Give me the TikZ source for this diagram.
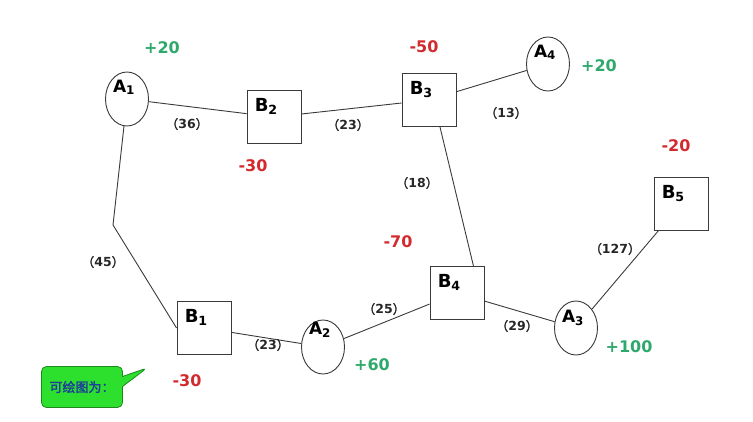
\documentclass[tikz,border=0pt]{standalone}
\usepackage{fontspec}
\setmainfont{DejaVu Sans}
\newfontfamily\cjk[AutoFakeBold=2]{Noto Sans CJK SC}
\usepackage{tikz}
\usetikzlibrary{shapes.geometric, shapes.callouts, calc}
\definecolor{gaingreen}{HTML}{2FA86B}
\definecolor{lossred}{HTML}{D22A2E}
\definecolor{linegray}{HTML}{3A3A3A}
\definecolor{notegreen}{HTML}{2EE02E}
\definecolor{noteedge}{HTML}{1A8A1A}
\definecolor{noteblue}{HTML}{1E3C9C}
\newcommand{\nm}[2]{#1\textsubscript{#2}}
\newcommand{\wt}[1]{{\cjk\bfseries （}\textbf{#1}{\cjk\bfseries ）}}

\begin{document}
\begin{tikzpicture}[
  x=1pt, y=-1pt,
  every node/.style={font=\bfseries},
  sink/.style={draw=linegray, line width=0.9pt, rectangle,
               minimum width=54pt, minimum height=53pt, inner sep=0pt},
  src/.style={draw=linegray, line width=0.9pt, ellipse,
              minimum width=43pt, minimum height=54pt, inner sep=0pt},
  boxtag/.style={anchor=north west, inner sep=8pt,
                 font=\fontsize{18}{20}\selectfont\bfseries},
  ovaltag/.style={anchor=north, inner sep=0pt, xshift=-3pt, yshift=-8pt,
                  font=\fontsize{17}{19}\selectfont\bfseries},
  gain/.style={text=gaingreen, font=\fontsize{16}{18}\selectfont\bfseries},
  loss/.style={text=lossred, font=\fontsize{16}{18}\selectfont\bfseries},
  wt/.style={text=black!85, font=\fontsize{12.5}{14}\selectfont},
  link/.style={draw=linegray, line width=0.9pt},
  note/.style={rectangle callout, rounded corners=5pt, draw=noteedge,
               line width=0.8pt, fill=notegreen, minimum width=81pt,
               minimum height=41pt, callout pointer width=10pt,
               text=noteblue, font=\cjk\bfseries\fontsize{13}{15}\selectfont}
]
\useasboundingbox (0,0) rectangle (753,421);

% Supply points
\node[src, label={[ovaltag]90:\nm{A}{1}}] (A1) at (127,99) {};
\node[src, label={[ovaltag, yshift=6pt]90:\nm{A}{2}}] (A2) at (323,347) {};
\node[src, label={[ovaltag, yshift=-1pt]90:\nm{A}{3}}] (A3) at (576,328) {};
\node[src, label={[ovaltag]90:\nm{A}{4}}] (A4) at (548,64) {};

% Demand points
\node[sink, label={[boxtag]north west:\nm{B}{1}}] (B1) at (204,328) {};
\node[sink, label={[boxtag]north west:\nm{B}{2}}] (B2) at (274,117) {};
\node[sink, label={[boxtag]north west:\nm{B}{3}}] (B3) at (429,100) {};
\node[sink, label={[boxtag]north west:\nm{B}{4}}] (B4) at (457,293) {};
\node[sink, label={[boxtag]north west:\nm{B}{5}}] (B5) at (681,204) {};

% Amounts
\node[gain] (vA1) at (162,48) {+20};
\node[gain] (vA2) at (372,365) {+60};
\node[gain] (vA3) at (629,347) {+100};
\node[gain] (vA4) at (599,66) {+20};
\node[loss] (vB1) at (187,381) {-30};
\node[loss] (vB2) at (253,166) {-30};
\node[loss] (vB3) at (424,47) {-50};
\node[loss] (vB4) at (398,242) {-70};
\node[loss] (vB5) at (676,146) {-20};

% Roads
\coordinate (kink) at (113,225);
\draw[link] (A1) -- (kink) -- (B1.west);
\draw[link] (A1) -- (B2);
\draw[link] (B2) -- (B3);
\draw[link] (B3) -- (A4);
\draw[link] ($(B3.south)!0.4!(B3.south east)$) -- ($(B4.north)!0.6!(B4.north east)$);
\draw[link] (B1) -- (A2);
\draw[link] (A2) -- (B4);
\draw[link] (B4) -- (A3);
\draw[link] (A3) -- (B5);

% Distances
\node[wt] (d36) at (187,124) {\wt{36}};
\node[wt] (d23a) at (348,125) {\wt{23}};
\node[wt] (d13) at (506,113) {\wt{13}};
\node[wt] (d18) at (417,183) {\wt{18}};
\node[wt] (d45) at (103,262) {\wt{45}};
\node[wt] (d127) at (615,249) {\wt{127}};
\node[wt] (d25) at (384,309) {\wt{25}};
\node[wt] (d29) at (517,326) {\wt{29}};
\node[wt] (d23b) at (268,345) {\wt{23}};

% Callout
\node[note, callout absolute pointer={(147,368)}] (hint) at (82,387) {可绘图为：};

\end{tikzpicture}
\end{document}
